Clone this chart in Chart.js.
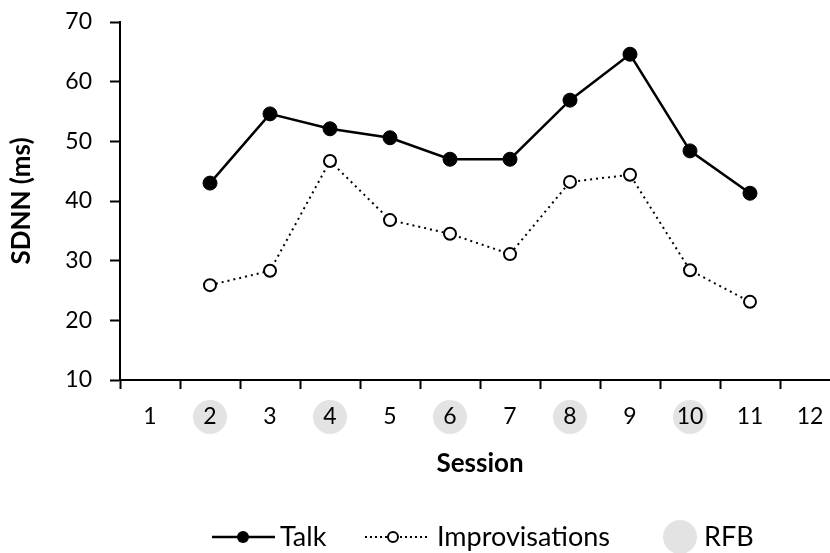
<!DOCTYPE html>
<html>
<head>
<meta charset="utf-8">
<script src="https://cdn.jsdelivr.net/npm/chart.js@4.4.1/dist/chart.umd.min.js"></script>
<style>
  html, body { margin: 0; padding: 0; background: #fff; overflow: hidden; }
  #wrap { width: 830px; height: 553px; overflow: hidden; }
  canvas { display: block; }
</style>
</head>
<body>
<div id="wrap">
  <canvas id="sdnnChart" width="840" height="553"></canvas>
</div>
<script>
const sessions = ["1", "2", "3", "4", "5", "6", "7", "8", "9", "10", "11", "12"];
const talk = [null, 43, 54.6, 52.1, 50.6, 47.0, 47.0, 56.9, 64.6, 48.4, 41.3, null];
const improvisations = [null, 25.9, 28.3, 46.7, 36.8, 34.5, 31.1, 43.2, 44.4, 28.4, 23.1, null];
const rfbSessions = ["2", "4", "6", "8", "10"];

const FONT = "Lato, 'Open Sans', sans-serif";
const GREY = "#e3e3e3";

// grey circles behind the RFB session labels
const rfbMarks = {
  id: "rfbMarks",
  beforeDraw(chart) {
    const x = chart.scales.x;
    const ctx = chart.ctx;
    const y = x.top + 37;
    ctx.save();
    ctx.fillStyle = GREY;
    rfbSessions.forEach(s => {
      const px = x.getPixelForValue(sessions.indexOf(s));
      ctx.beginPath();
      ctx.arc(px, y, 17, 0, Math.PI * 2);
      ctx.fill();
    });
    ctx.restore();
  }
};

// legend drawn by hand: line + marker, dotted line + open marker, grey dot
const customLegend = {
  id: "customLegend",
  afterDraw(chart) {
    const ctx = chart.ctx;
    const y = 537;
    ctx.save();
    ctx.font = "27px " + FONT;
    ctx.textBaseline = "middle";
    ctx.fillStyle = "#000";
    ctx.strokeStyle = "#000";

    ctx.lineWidth = 2.5;
    ctx.beginPath(); ctx.moveTo(212, y); ctx.lineTo(275, y); ctx.stroke();
    ctx.beginPath(); ctx.arc(243, y, 6, 0, Math.PI * 2); ctx.fill();
    ctx.fillText("Talk", 280, y);

    ctx.lineWidth = 2;
    ctx.setLineDash([2, 3]);
    ctx.beginPath(); ctx.moveTo(365, y); ctx.lineTo(428, y); ctx.stroke();
    ctx.setLineDash([]);
    ctx.fillStyle = "#fff";
    ctx.beginPath(); ctx.arc(393, y, 5, 0, Math.PI * 2); ctx.fill(); ctx.stroke();
    ctx.fillStyle = "#000";
    ctx.fillText("Improvisations", 437, y);

    ctx.fillStyle = GREY;
    ctx.beginPath(); ctx.arc(680, y, 17, 0, Math.PI * 2); ctx.fill();
    ctx.fillStyle = "#000";
    ctx.fillText("RFB", 704, y);
    ctx.restore();
  }
};

const ctx = document.getElementById("sdnnChart");
new Chart(ctx, {
  type: "line",
  data: {
    labels: sessions,
    datasets: [
      {
        label: "Talk",
        data: talk,
        borderColor: "#000",
        borderWidth: 2.5,
        pointRadius: 7,
        pointBackgroundColor: "#000",
        pointBorderColor: "#000",
        pointBorderWidth: 1,
        tension: 0,
      },
      {
        label: "Improvisations",
        data: improvisations,
        borderColor: "#000",
        borderWidth: 2,
        borderDash: [2, 4],
        pointRadius: 6,
        pointBackgroundColor: "#fff",
        pointBorderColor: "#000",
        pointBorderWidth: 2,
        tension: 0,
      },
    ],
  },
  options: {
    responsive: false,
    animation: false,
    layout: {
      autoPadding: false,
      padding: { top: 22, right: 0, bottom: 74, left: 0 },
    },
    plugins: {
      legend: { display: false },
      tooltip: { enabled: false },
    },
    scales: {
      x: {
        type: "category",
        offset: true,
        afterFit(scale) {
          scale.height = 99;
          scale.paddingLeft = 0;
          scale.paddingRight = 0;
        },
        grid: {
          offset: true,
          drawOnChartArea: false,
          tickLength: 9,
          tickWidth: 2,
          tickColor: "#000",
        },
        border: { color: "#000", width: 2 },
        ticks: {
          color: "#000",
          padding: 14,
          maxRotation: 0,
          autoSkip: false,
          font: { family: FONT, size: 23 },
        },
        title: {
          display: true,
          text: "Session",
          color: "#000",
          font: { family: FONT, size: 26, weight: "bold" },
          padding: 0,
        },
      },
      y: {
        min: 10,
        max: 70,
        afterFit(scale) {
          scale.width = 120;
          scale.paddingTop = 0;
          scale.paddingBottom = 0;
        },
        grid: {
          drawOnChartArea: false,
          tickLength: 10,
          tickWidth: 2,
          tickColor: "#000",
        },
        border: { color: "#000", width: 2 },
        ticks: {
          stepSize: 10,
          color: "#000",
          padding: 18,
          font: { family: FONT, size: 23 },
        },
        title: {
          display: true,
          text: "SDNN (ms)",
          color: "#000",
          font: { family: FONT, size: 26, weight: "bold" },
          padding: { top: 6, bottom: 0 },
        },
      },
    },
  },
  plugins: [rfbMarks, customLegend],
});
</script>
</body>
</html>
